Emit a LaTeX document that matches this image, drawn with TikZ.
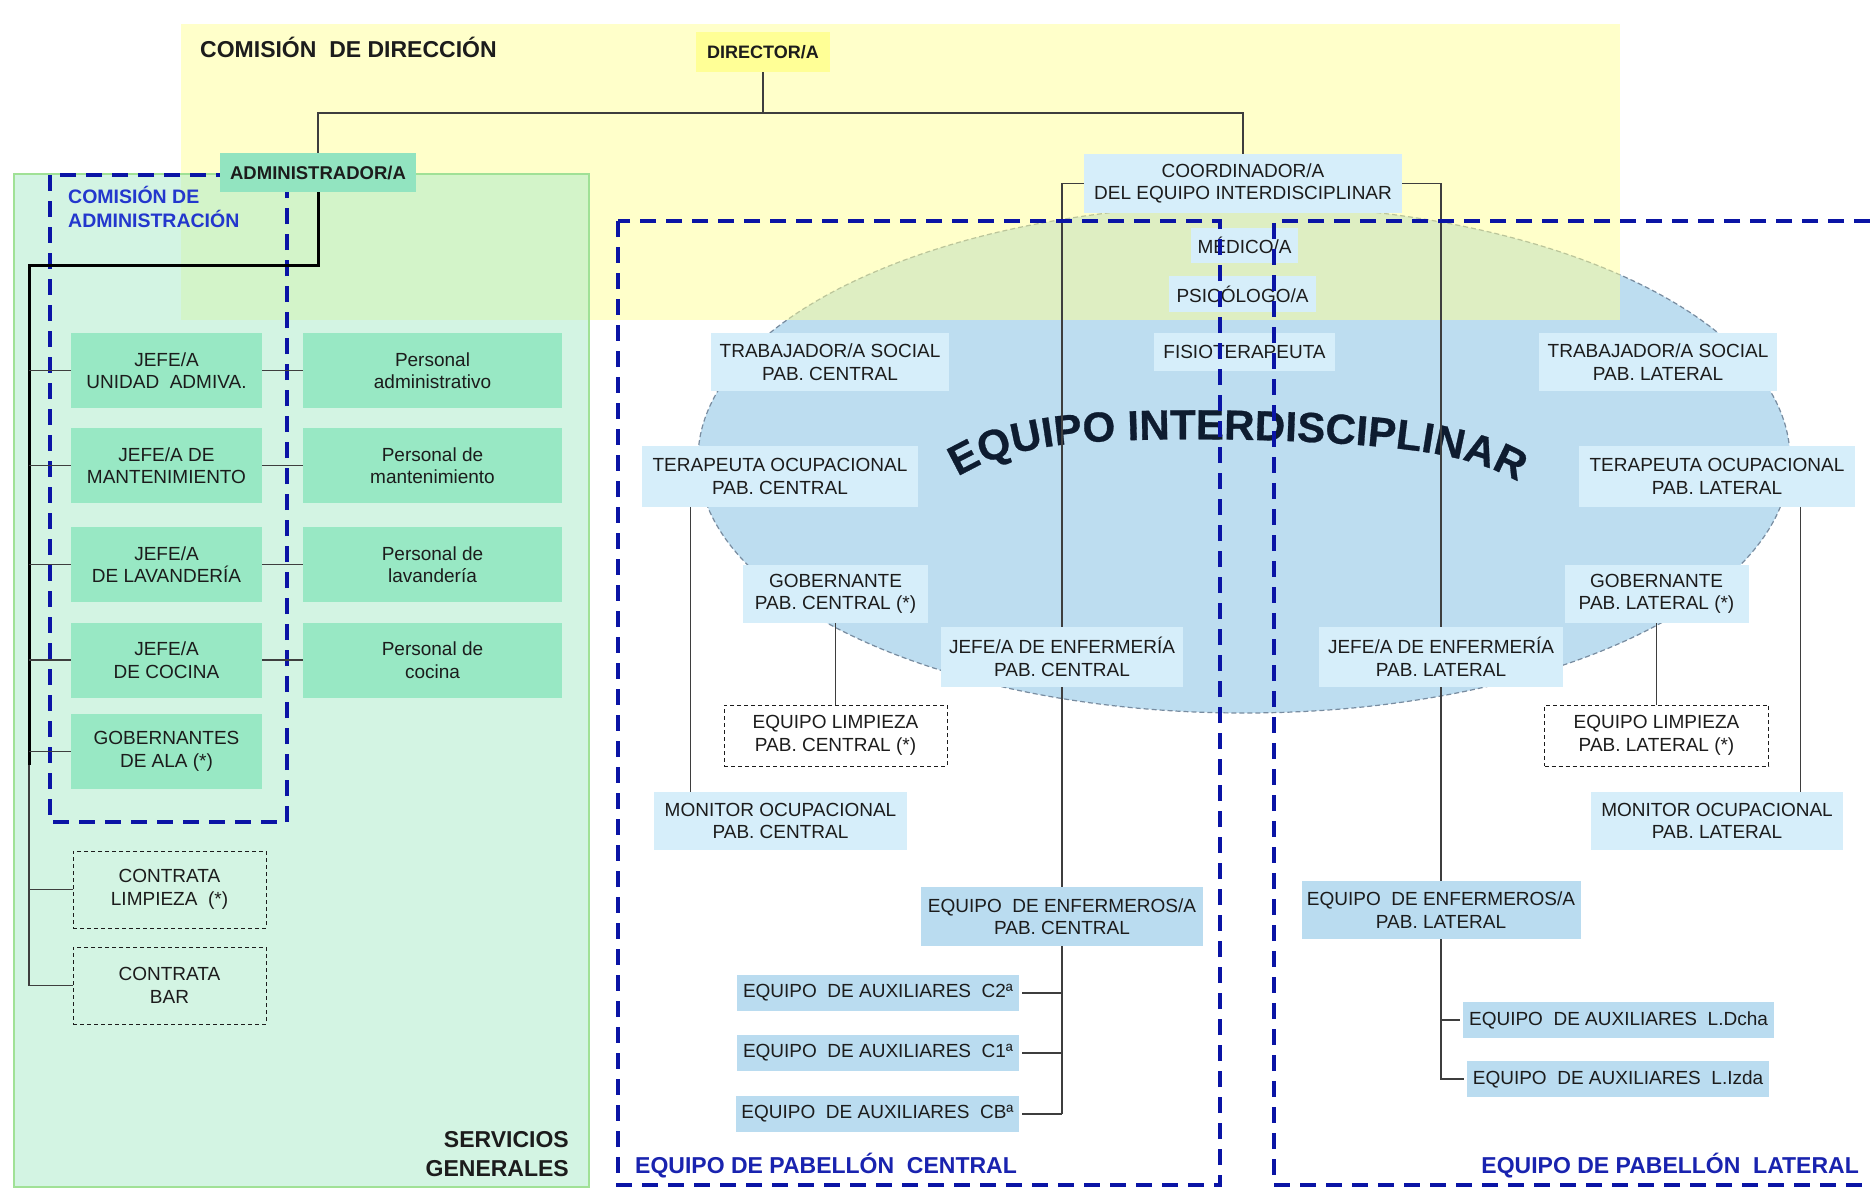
\documentclass[tikz,border=0pt]{standalone}
\usepackage{fontspec}
\setmainfont{Liberation Sans}
\newfontfamily\archfont[BoldFeatures={FakeBold=0.7}]{Liberation Sans}
\usetikzlibrary{decorations.text}
\definecolor{txt}{RGB}{28,28,28}
\definecolor{ylw}{RGB}{255,255,150}
\definecolor{grn}{RGB}{169,235,201}
\definecolor{grnborder}{RGB}{160,225,150}
\definecolor{ellblue}{RGB}{189,221,240}
\definecolor{ellborder}{RGB}{120,140,160}
\definecolor{boxgreen}{RGB}{152,232,196}
\definecolor{admgreen}{RGB}{146,228,192}
\definecolor{ltblue}{RGB}{214,238,250}
\definecolor{mdblue}{RGB}{186,220,240}
\definecolor{dashblue}{RGB}{10,20,165}
\definecolor{lblblue}{RGB}{25,35,175}
\definecolor{admblue}{RGB}{35,55,205}
\definecolor{archcol}{RGB}{14,28,48}
\begin{document}
\begin{tikzpicture}[x=1pt,y=-1pt,
  every node/.style={font=\fontsize{19}{22.5}\selectfont, text=txt},
  sz/.style 2 args={minimum width=#1pt, minimum height=#2pt},
  gbox/.style={rectangle, fill=boxgreen, inner sep=0pt, align=center},
  lbox/.style={rectangle, fill=ltblue, inner sep=0pt, align=center},
  mbox/.style={rectangle, fill=mdblue, inner sep=0pt, align=center},
  dbox/.style={rectangle, draw=txt, line width=1pt, dash pattern=on 4pt off 3pt, inner sep=0pt, align=center},
  conn/.style={draw=txt!85, line width=1.3pt},
  thick conn/.style={draw=black, line width=3pt},
  bframe/.style={draw=dashblue, line width=4pt, dash pattern=on 16pt off 10pt},
  title/.style={font=\fontsize{23}{29}\selectfont\bfseries, inner sep=0pt}
]
\useasboundingbox (0,0) rectangle (1870,1188);
\fill[white] (0,0) rectangle (1870,1188);

% backgrounds
\draw[draw=ellborder, line width=1.2pt, dash pattern=on 5pt off 3pt, fill=ellblue] (1244,459) ellipse [x radius=546pt, y radius=254pt];
\fill[ylw, fill opacity=0.5] (181,24) rectangle (1620,320);
\draw[draw=grnborder, line width=1.2pt, fill=grn, fill opacity=0.5] (14,174) rectangle (589,1187);

% arched title
\path[decorate, decoration={text along path, text align={fit to path},
  text={|\archfont\fontsize{42}{42}\selectfont\bfseries\color{archcol}|EQUIPO INTERDISCIPLINAR}}]
  (958,477) .. controls (990,456) and (1040,444) .. (1110,441)
  .. controls (1200,437) and (1330,440) .. (1410,450)
  .. controls (1450,455) and (1490,465) .. (1518,482);

% labels
\node[title, anchor=base west] (lcd) at (200,58) {COMISIÓN\ \ DE DIRECCIÓN};
\node[title, anchor=south east, align=right] (lsg) at (569,1177) {SERVICIOS\\GENERALES};
\node[title, text=lblblue, anchor=base west] (lpc) at (635,1173) {EQUIPO DE PABELLÓN\ \ CENTRAL};
\node[title, text=lblblue, anchor=base east] (lpl) at (1859,1173) {EQUIPO DE PABELLÓN\ \ LATERAL};
\node[font=\fontsize{19.5}{24}\selectfont\bfseries, text=admblue, anchor=north west, align=left, inner sep=0pt] (lca) at (68,186) {COMISIÓN DE\\ADMINISTRACIÓN};

% comision de administracion frame
\draw[bframe] (50,175) rectangle (287,822);

% top nodes
\node[rectangle, fill=ylw, inner sep=0pt, sz={134}{40}, font=\fontsize{18}{22}\selectfont\bfseries] (dir) at (763,52) {DIRECTOR/A};
\node[rectangle, fill=admgreen, inner sep=0pt, sz={196}{39}, font=\fontsize{18.5}{22}\selectfont\bfseries] (adm) at (318,172.5) {ADMINISTRADOR/A};
\node[lbox, sz={318}{59}] (coord) at (1243,183.5) {COORDINADOR/A\\DEL EQUIPO INTERDISCIPLINAR};

% left column
\node[gbox, sz={191}{75}] (ua) at (166.5,370.5) {JEFE/A\\UNIDAD\ \ ADMIVA.};
\node[gbox, sz={191}{75}] (ma) at (166.5,465.5) {JEFE/A DE\\MANTENIMIENTO};
\node[gbox, sz={191}{75}] (la) at (166.5,564.5) {JEFE/A\\DE LAVANDERÍA};
\node[gbox, sz={191}{75}] (co) at (166.5,660) {JEFE/A\\DE COCINA};
\node[gbox, sz={191}{75}] (go) at (166.5,751.5) {GOBERNANTES\\DE ALA (*)};
\node[gbox, sz={259}{75}] (pua) at (432.5,370.5) {Personal\\administrativo};
\node[gbox, sz={259}{75}] (pma) at (432.5,465.5) {Personal de\\mantenimiento};
\node[gbox, sz={259}{75}] (pla) at (432.5,564.5) {Personal de\\lavandería};
\node[gbox, sz={259}{75}] (pco) at (432.5,660) {Personal de\\cocina};
\node[dbox, sz={193}{77}] (cl) at (169.5,889.5) {CONTRATA\\LIMPIEZA\ \ (*)};
\node[dbox, sz={193}{77}] (cb) at (169.5,985.5) {CONTRATA\\BAR};

% interdisciplinary team
\node[lbox, sz={107}{35}] (med) at (1244.5,245.5) {MÉDICO/A};
\node[lbox, sz={147}{36}] (psi) at (1242.5,294) {PSICÓLOGO/A};
\node[lbox, sz={181}{38}] (fis) at (1244.5,352) {FISIOTERAPEUTA};
\node[lbox, sz={238}{58}] (tsc) at (830,362) {TRABAJADOR/A SOCIAL\\PAB. CENTRAL};
\node[lbox, sz={238}{58}] (tsl) at (1658,362) {TRABAJADOR/A SOCIAL\\PAB. LATERAL};
\node[lbox, sz={276}{61}] (toc) at (780,476.5) {TERAPEUTA OCUPACIONAL\\PAB. CENTRAL};
\node[lbox, sz={276}{61}] (tol) at (1717,476.5) {TERAPEUTA OCUPACIONAL\\PAB. LATERAL};
\node[lbox, sz={185}{58}] (goc) at (835.5,594) {GOBERNANTE\\PAB. CENTRAL (*)};
\node[lbox, sz={184}{58}] (gol) at (1656.5,594) {GOBERNANTE\\PAB. LATERAL (*)};
\node[lbox, sz={242}{60}] (jec) at (1062,657) {JEFE/A DE ENFERMERÍA\\PAB. CENTRAL};
\node[lbox, sz={244}{60}] (jel) at (1441,657) {JEFE/A DE ENFERMERÍA\\PAB. LATERAL};
\node[dbox, fill=white, sz={223}{61}] (elc) at (835.5,735.5) {EQUIPO LIMPIEZA\\PAB. CENTRAL (*)};
\node[dbox, fill=white, sz={224}{61}] (ell) at (1656.5,735.5) {EQUIPO LIMPIEZA\\PAB. LATERAL (*)};
\node[lbox, sz={253}{58}] (moc) at (780.5,821) {MONITOR OCUPACIONAL\\PAB. CENTRAL};
\node[lbox, sz={252}{58}] (mol) at (1717,821) {MONITOR OCUPACIONAL\\PAB. LATERAL};
\node[mbox, sz={282}{59}] (eec) at (1062,916.5) {EQUIPO\ \ DE ENFERMEROS/A\\PAB. CENTRAL};
\node[mbox, sz={279}{58}] (eel) at (1441,910) {EQUIPO\ \ DE ENFERMEROS/A\\PAB. LATERAL};
\node[mbox, sz={282}{36}] (ac2) at (878,993) {EQUIPO\ \ DE AUXILIARES\ \ C2ª};
\node[mbox, sz={282}{36}] (ac1) at (878,1053) {EQUIPO\ \ DE AUXILIARES\ \ C1ª};
\node[mbox, sz={283}{36}] (acb) at (877.5,1114) {EQUIPO\ \ DE AUXILIARES\ \ CBª};
\node[mbox, sz={311}{36}] (ald) at (1618.5,1020) {EQUIPO\ \ DE AUXILIARES\ \ L.Dcha};
\node[mbox, sz={302}{36}] (ali) at (1618,1079) {EQUIPO\ \ DE AUXILIARES\ \ L.Izda};

% connectors: top
\coordinate (hub) at (763,113);
\draw[conn] (dir.south) -- (hub);
\draw[conn] (hub) -| (adm.north);
\draw[conn] (hub) -| (coord.north);

% admin spine
\coordinate (sp) at (29,265);
\coordinate (spm) at (29,765);
\draw[thick conn] (adm.south) |- (sp) -- (spm);
\draw[conn] (spm) |- (cb.west);
\foreach \n in {ua,ma,la,co,go}{\draw[conn] (sp |- \n.west) -- (\n.west);}
\draw[conn] (sp |- cl.west) -- (cl.west);
\draw[conn] (ua.east) -- (pua.west);
\draw[conn] (ma.east) -- (pma.west);
\draw[conn] (la.east) -- (pla.west);
\draw[conn] (co.east) -- (pco.west);

% interdisciplinary connectors
\draw[conn] (coord.west) -| (jec.north);
\draw[conn] (coord.east) -| (jel.north);
\draw[conn] (jec.south) -- (eec.north);
\draw[conn] (jel.south) -- (eel.north);
\coordinate (tocl) at ([xshift=49pt]toc.south west);
\coordinate (toll) at ([xshift=222pt]tol.south west);
\draw[conn] (tocl) -- (tocl |- moc.north);
\draw[conn] (toll) -- (toll |- mol.north);
\draw[conn] (goc.south) -- (elc.north);
\draw[conn] (gol.south) -- (ell.north);
\draw[conn] (eec.south) -- (eec.south |- acb.east);
\foreach \n in {ac2,ac1,acb}{\draw[conn] ([xshift=3pt]\n.east) -- (eec.south |- \n.east);}
\draw[conn] (eel.south) |- ([xshift=-3pt]ali.west);
\draw[conn] (eel.south |- ald.west) -- ([xshift=-3pt]ald.west);

% pavilion frames
\draw[bframe] (618,221) rectangle (1220,1185);
\draw[bframe] (1870,221) -- (1274,221) -- (1274,1185) -- (1870,1185);
\end{tikzpicture}
\end{document}
